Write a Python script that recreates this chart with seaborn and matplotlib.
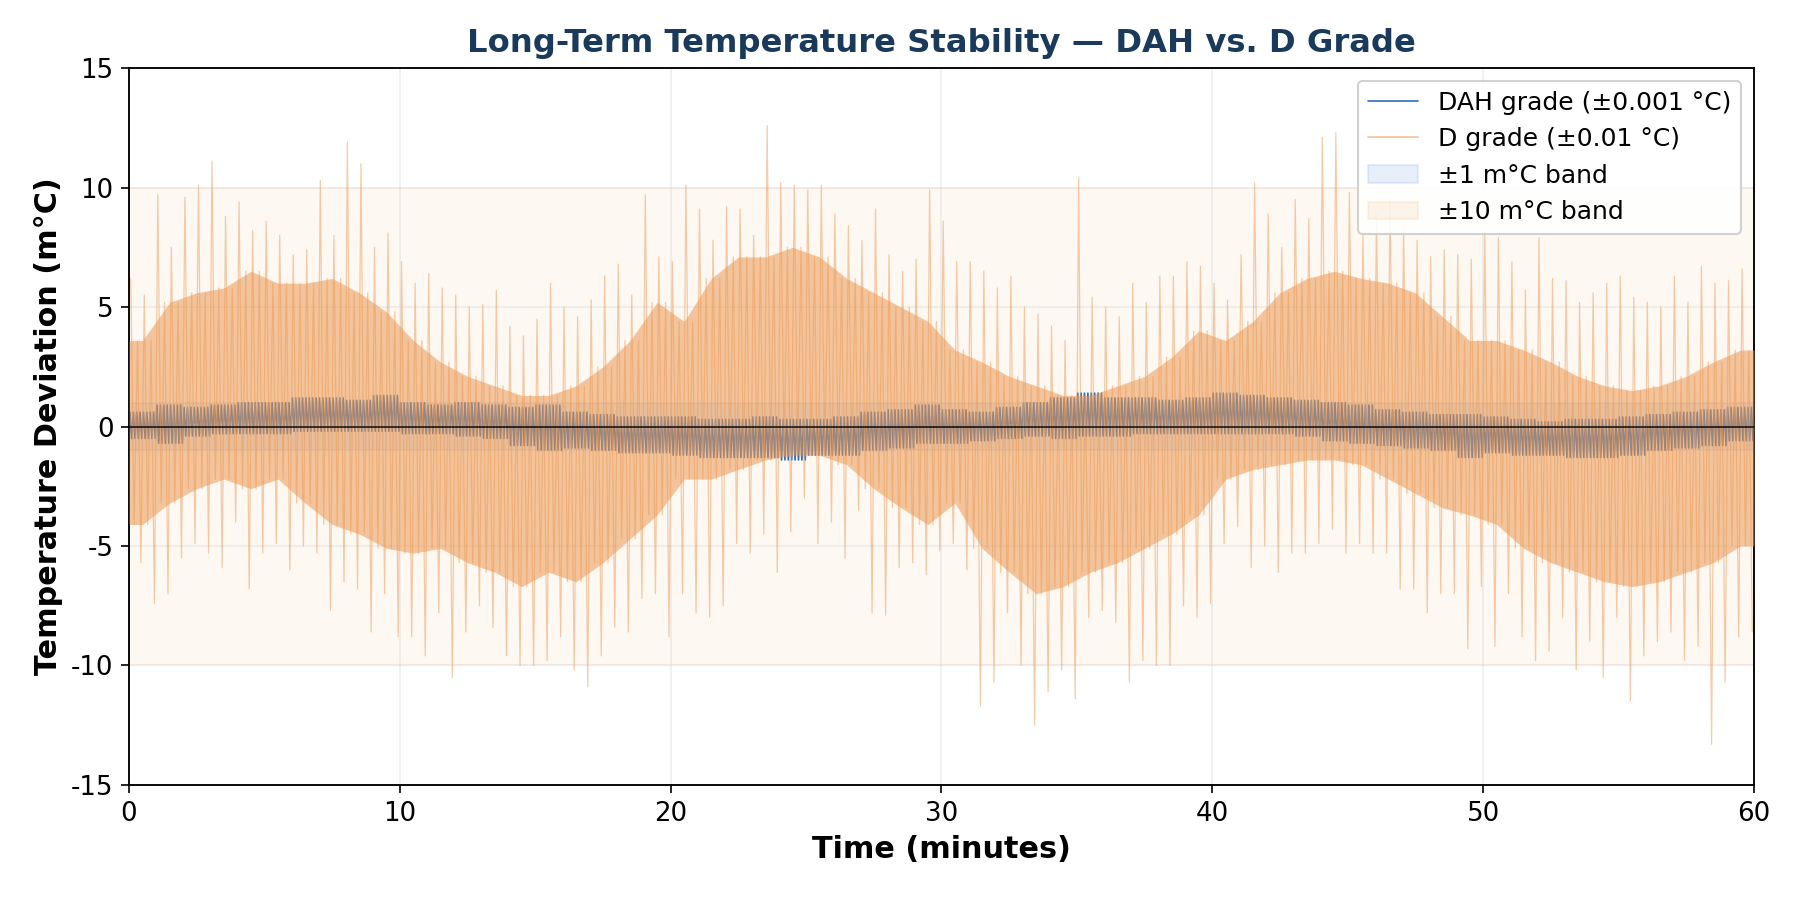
import numpy as np
import matplotlib
matplotlib.use('Agg')
import matplotlib.pyplot as plt
import seaborn as sns
from matplotlib.patches import Patch
from matplotlib.lines import Line2D

# values, m°C
# D grade: highest / lowest excursion in each half minute (0.0-0.5, 0.5-1.0, ...)
d_up = [6.2, 5.5, 9.7, 7.5, 9.6, 10.1, 11.1, 8.8, 9.4, 8.2, 8.6, 8.0, 7.2, 7.4, 10.3, 8.0, 11.9, 11.0, 7.5, 8.1,
        6.9, 6.0, 6.4, 5.8, 5.5, 5.0, 5.1, 5.7, 4.2, 3.8, 4.5, 6.0, 5.0, 4.6, 5.3, 6.3, 6.8, 5.5, 9.7, 7.1,
        6.9, 10.1, 9.1, 7.8, 9.2, 9.1, 8.0, 12.6, 10.2, 10.1, 9.9, 10.1, 8.9, 8.4, 7.8, 9.1, 7.2, 6.5, 7.0, 9.9,
        8.6, 6.9, 6.9, 6.5, 5.8, 6.3, 5.0, 4.7, 4.2, 3.6, 10.4, 5.4, 5.0, 4.6, 6.0, 5.2, 6.3, 6.3, 6.9, 6.7,
        6.0, 5.3, 7.2, 10.2, 8.9, 7.5, 9.5, 8.7, 12.1, 12.3, 9.8, 8.0, 8.9, 9.5, 8.4, 7.8, 7.1, 7.4, 7.2, 7.0,
        8.1, 7.9, 6.9, 5.7, 7.9, 6.2, 6.1, 5.2, 5.6, 6.0, 6.3, 5.4, 5.2, 5.0, 6.3, 5.2, 6.7, 6.0, 6.1, 6.6]
d_dn = [-5.7, -7.4, -7.0, -5.5, -4.9, -5.3, -5.9, -4.0, -6.8, -5.3, -4.9, -6.0, -5.0, -5.3, -7.7, -6.5, -6.8, -8.6, -7.0, -8.8,
        -8.8, -9.6, -7.8, -10.5, -8.6, -7.5, -8.4, -9.6, -10.0, -10.0, -9.8, -8.8, -10.2, -10.9, -9.6, -8.4, -8.6, -7.2, -7.0, -8.8,
        -7.0, -7.8, -8.0, -7.5, -4.9, -5.3, -4.5, -6.1, -4.4, -3.0, -4.9, -4.0, -5.5, -3.5, -7.8, -7.9, -5.9, -5.7, -6.2, -5.2,
        -4.9, -6.0, -11.7, -10.7, -7.8, -10.0, -12.5, -11.1, -10.2, -11.4, -8.0, -7.7, -8.2, -10.7, -9.8, -10.0, -10.0, -7.5, -8.0, -7.4,
        -4.9, -4.2, -5.9, -5.0, -6.1, -5.3, -5.3, -4.9, -4.3, -5.3, -4.9, -5.3, -5.3, -6.8, -6.8, -7.8, -7.0, -7.0, -9.3, -6.7,
        -9.2, -7.0, -8.8, -9.8, -9.4, -8.0, -10.2, -9.0, -10.5, -8.0, -11.5, -9.6, -9.0, -8.6, -9.8, -9.2, -13.3, -10.7, -8.8, -8.6]
# D grade: edges of the dense core, one value per minute
d_core_hi = [3.6, 5.2, 5.6, 5.8, 6.5, 6.0, 6.0, 6.2, 5.6, 4.8, 3.6, 2.7, 2.1, 1.7, 1.3, 1.3, 1.7, 2.5, 3.6, 5.2,
             4.4, 6.2, 7.1, 7.1, 7.5, 7.1, 6.2, 5.6, 5.0, 4.4, 3.2, 2.7, 2.1, 1.7, 1.3, 1.3, 1.7, 2.1, 2.9, 4.0,
             3.6, 4.4, 5.6, 6.2, 6.5, 6.2, 6.0, 5.6, 4.6, 3.6, 3.6, 3.2, 2.7, 2.1, 1.7, 1.5, 1.7, 2.1, 2.7, 3.2]
d_core_lo = [-4.1, -3.2, -2.6, -2.2, -2.6, -2.2, -3.2, -4.1, -4.5, -5.1, -5.3, -5.1, -5.7, -6.1, -6.7, -6.1, -6.5, -5.7, -4.7, -3.7,
             -2.2, -2.2, -1.8, -1.4, -1.2, -1.2, -1.6, -2.6, -3.4, -4.1, -3.2, -5.1, -6.1, -7.0, -6.7, -6.1, -5.7, -5.1, -4.5, -3.7,
             -2.2, -1.8, -1.6, -1.4, -1.4, -1.6, -2.2, -2.8, -3.4, -3.7, -4.1, -5.1, -5.7, -6.1, -6.5, -6.7, -6.5, -6.1, -5.7, -5.0]
# DAH grade: highest / lowest value in each minute
dah_hi = [0.6, 0.9, 0.8, 0.9, 1.0, 1.0, 1.2, 1.2, 1.1, 1.3, 1.0, 0.9, 1.0, 0.9, 0.8, 0.9, 0.6, 0.5, 0.4, 0.4,
          0.4, 0.3, 0.3, 0.4, 0.3, 0.3, 0.4, 0.6, 0.7, 0.9, 0.7, 0.6, 0.8, 1.0, 1.2, 1.4, 1.2, 1.2, 1.1, 1.2,
          1.4, 1.3, 1.2, 1.1, 1.0, 0.9, 0.7, 0.6, 0.5, 0.5, 0.4, 0.3, 0.2, 0.3, 0.3, 0.4, 0.5, 0.6, 0.7, 0.8]
dah_lo = [-0.5, -0.7, -0.4, -0.3, -0.3, -0.3, -0.2, -0.2, -0.2, -0.2, -0.3, -0.3, -0.4, -0.5, -0.8, -1.0, -0.9, -1.0, -1.1, -1.1,
          -1.2, -1.3, -1.3, -1.3, -1.4, -1.2, -1.2, -1.0, -0.9, -0.7, -0.7, -0.6, -0.5, -0.4, -0.5, -0.4, -0.4, -0.3, -0.3, -0.3,
          -0.3, -0.3, -0.3, -0.4, -0.6, -0.7, -0.8, -0.9, -1.0, -1.3, -1.1, -1.2, -1.2, -1.3, -1.3, -1.2, -1.0, -0.9, -0.8, -0.6]

minutes = np.arange(60)

# zig-zag traces through the read extremes
half = np.arange(120) * 0.5
d_t = (half[:, None] + np.array([0.0625, 0.1875, 0.3125, 0.4375])).ravel()
d_v = np.column_stack([d_up, np.repeat(d_core_lo, 2), np.repeat(d_core_hi, 2), d_dn]).ravel()

dah_t = (minutes[:, None] + (np.arange(16) + 0.5) / 16).ravel()
dah_v = np.column_stack([dah_hi, dah_lo] * 8).ravel()

core_x = np.concatenate([[0], minutes + 0.5, [60]])
core_hi = np.pad(d_core_hi, 1, mode='edge')
core_lo = np.pad(d_core_lo, 1, mode='edge')

sns.set_style('ticks')
plt.rcParams['font.family'] = ['DejaVu Sans']
plt.rcParams['axes.unicode_minus'] = False
plt.rcParams.update({'text.color': 'black', 'axes.labelcolor': 'black',
                     'xtick.color': 'black', 'ytick.color': 'black'})

blue = '#2f6db5'
orange = '#ec9a55'

fig, ax = plt.subplots(figsize=(12, 5.98), dpi=150)
fig.subplots_adjust(left=0.0717, right=0.9744, top=0.924, bottom=0.125)

ax.axhspan(-10, 10, color='#f2a65a', alpha=0.08, zorder=0)
ax.axhspan(-1, 1, color='#3b7dd8', alpha=0.12, zorder=0)

sns.lineplot(x=dah_t, y=dah_v, sort=False, estimator=None, color=blue, linewidth=0.8, ax=ax, zorder=2)
ax.fill_between(core_x, core_lo, core_hi, color=orange, alpha=0.55, linewidth=0, zorder=3)
sns.lineplot(x=d_t, y=d_v, sort=False, estimator=None, color=orange, alpha=0.5, linewidth=0.6, ax=ax, zorder=3)
ax.axhline(0, color='black', linewidth=0.8, alpha=0.85, zorder=4)

ax.set_xlim(0, 60)
ax.set_ylim(-15, 15)
ax.set_yticks([-15, -10, -5, 0, 5, 10, 15])
ax.tick_params(labelsize=12.5, length=4)
ax.grid(True, alpha=0.3)
for s in ax.spines.values():
    s.set_color('black')
    s.set_linewidth(0.9)

ax.set_title('Long-Term Temperature Stability — DAH vs. D Grade', fontsize=15.5, fontweight='bold',
             color='#1a3a5c', pad=8)
ax.set_xlabel('Time (minutes)', fontsize=14.5, fontweight='bold')
ax.set_ylabel('Temperature Deviation (m°C)', fontsize=14.5, fontweight='bold')

handles = [
    Line2D([], [], color=blue, linewidth=0.8),
    Line2D([], [], color=orange, alpha=0.6, linewidth=0.8),
    Patch(facecolor='#3b7dd8', edgecolor='#3b7dd8', alpha=0.12),
    Patch(facecolor='#f2a65a', edgecolor='#f2a65a', alpha=0.12),
]
labels = ['DAH grade (±0.001 °C)', 'D grade (±0.01 °C)', '±1 m°C band', '±10 m°C band']
ax.legend(handles, labels, loc='upper right', fontsize=12, framealpha=0.9)

fig.savefig('out.png', dpi=150)
